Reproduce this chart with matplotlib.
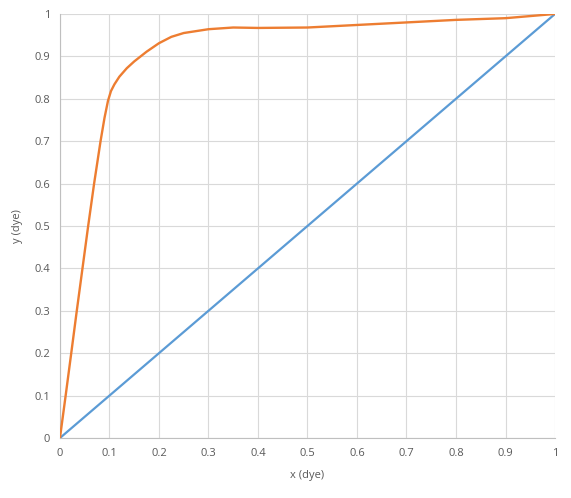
import matplotlib
matplotlib.use("Agg")
import matplotlib.pyplot as plt

# orange curve, values
curve_x = [0, 0.0115, 0.0228, 0.034, 0.0455, 0.057, 0.069, 0.082, 0.09, 0.097,
           0.103, 0.11, 0.12, 0.135, 0.15, 0.175, 0.2, 0.225, 0.25, 0.3,
           0.35, 0.4, 0.5, 0.6, 0.7, 0.8, 0.9, 1.0]
curve_y = [0, 0.1, 0.2, 0.3, 0.4, 0.5, 0.6, 0.7, 0.755, 0.795,
           0.818, 0.834, 0.852, 0.872, 0.888, 0.911, 0.931, 0.946, 0.955, 0.964,
           0.968, 0.967, 0.968, 0.974, 0.98, 0.986, 0.99, 1.0]

# diagonal
diag_x = [0, 1]
diag_y = [0, 1]

ticks = [0, 0.1, 0.2, 0.3, 0.4, 0.5, 0.6, 0.7, 0.8, 0.9, 1]
tick_labels = ["0", "0.1", "0.2", "0.3", "0.4", "0.5", "0.6", "0.7", "0.8", "0.9", "1"]

plt.rcParams['font.family'] = ['Open Sans', 'DejaVu Sans']
txt = '#595959'

fig = plt.figure(figsize=(5.71, 4.98), dpi=100)
ax = fig.add_axes([0.105, 0.1205, 0.867, 0.8515])

ax.plot(diag_x, diag_y, color='#5b9bd5', lw=1.6, solid_capstyle='round', zorder=3)
ax.plot(curve_x, curve_y, color='#ed7d31', lw=1.7, solid_joinstyle='round', zorder=4)

ax.set_xlim(0, 1)
ax.set_ylim(0, 1)
ax.set_xticks(ticks)
ax.set_yticks(ticks)
ax.set_xticklabels(tick_labels)
ax.set_yticklabels(tick_labels)
ax.tick_params(length=0, labelsize=8, colors=txt, pad=7)
ax.grid(True, color='#d9d9d9', lw=0.8)
ax.set_axisbelow(True)
for s in ['top', 'right']:
    ax.spines[s].set_visible(False)
for s in ['left', 'bottom']:
    ax.spines[s].set_color('#bfbfbf')
    ax.spines[s].set_linewidth(0.8)

ax.set_xlabel('x (dye)', fontsize=8, color=txt, labelpad=8)
ax.set_ylabel('y (dye)', fontsize=8, color=txt, labelpad=8)

fig.savefig('out.png', dpi=100)
